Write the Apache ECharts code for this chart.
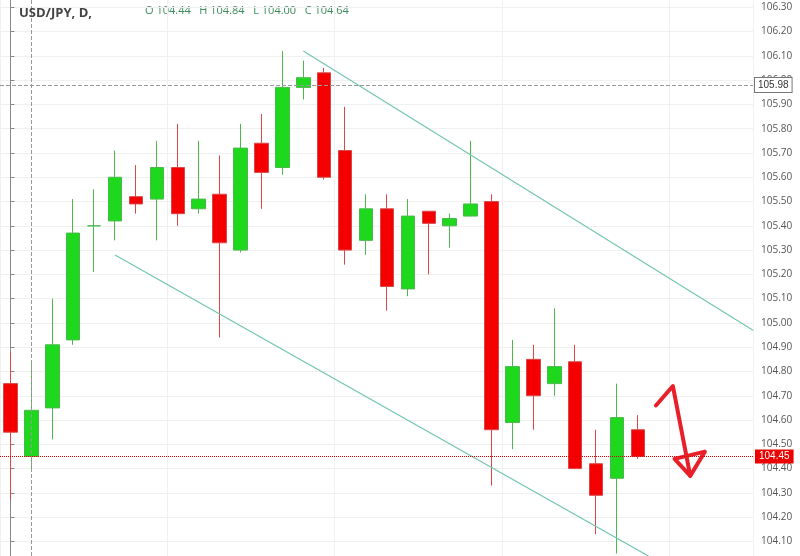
<!DOCTYPE html>
<html><head><meta charset="utf-8">
<script src="https://cdn.jsdelivr.net/npm/echarts@6/dist/echarts.min.js"></script>
<style>html,body{margin:0;padding:0;background:#fff}#main{width:800px;height:556px}</style>
</head><body><div id="main"></div>
<script>
// candles: [open, close, low, high]
var opens  = [104.75,104.45,104.65,104.93,105.40,105.42,105.52,105.51,105.64,105.47,105.53,105.30,105.74,105.64,105.97,106.03,105.71,105.34,105.47,105.14,105.46,105.40,105.44,105.50,104.59,104.85,104.75,104.84,104.42,104.36,104.56];
var closes = [104.55,104.64,104.91,105.37,105.40,105.60,105.49,105.64,105.45,105.51,105.33,105.72,105.62,105.97,106.01,105.60,105.30,105.47,105.15,105.44,105.41,105.43,105.49,104.56,104.82,104.70,104.82,104.40,104.29,104.61,104.45];
var lows   = [104.27,104.40,104.52,104.91,105.21,105.34,105.45,105.34,105.40,105.45,104.94,105.29,105.47,105.61,105.92,105.59,105.24,105.28,105.05,105.11,105.20,105.31,105.45,104.33,104.48,104.56,104.70,104.40,104.13,104.05,104.44];
var highs  = [104.88,104.83,105.10,105.51,105.55,105.71,105.65,105.75,105.82,105.75,105.69,105.82,105.86,106.12,106.08,106.05,105.89,105.53,105.53,105.51,105.46,105.45,105.75,105.53,104.93,104.91,105.06,104.91,104.56,104.75,104.62];
var slots = 36;
var tickValues = [104.1,104.2,104.3,104.4,104.5,104.6,104.7,104.8,104.9,105.0,105.1,105.2,105.3,105.4,105.5,105.6,105.7,105.8,105.9,106.0,106.1,106.2,106.3];
var upperChannel = [[14,106.12],[35.5,104.97]];
var lowerChannel = [[5,105.28],[30.5,104.04]];
var arrowPath = [[30.86,104.66],[31.67,104.74],[32.5,104.37]];
var arrowHead = [[31.75,104.44],[32.5,104.37],[33.2,104.47],[31.75,104.44]];
var lastPrice = 104.45, crossPrice = 105.98, crossIndex = 1;

var cats = [], candles = [];
for (var i = 0; i < slots; i++) {
  cats.push(String(i));
  if (i < opens.length) candles.push([opens[i], closes[i], lows[i], highs[i]]);
  else candles.push('-');
}
var chart = echarts.init(document.getElementById('main'));
chart.setOption({
  animation: false,
  grid: {left: 0, right: 47, top: 0, bottom: 0},
  title: {
    text: 'USD/JPY, D,',
    left: 14, top: 2,
    textStyle: {fontSize: 13, fontWeight: 'bold', color: '#444', fontFamily: 'Open Sans'}
  },
  graphic: [{
    type: 'text', left: 145, top: 5,
    style: {text: 'O 104.44   H 104.84   L 104.00   C 104.64', fill: '#3b8a5a', font: '11px "Open Sans"'}
  }],
  xAxis: [{
    type: 'category', data: cats, boundaryGap: true,
    axisLine: {show: false}, axisTick: {show: false}, axisLabel: {show: false},
    splitLine: {show: true, interval: 7, lineStyle: {color: '#f0f0f0'}}
  }, {
    type: 'value', min: -0.5, max: slots - 0.5, show: false
  }],
  yAxis: {
    type: 'value', position: 'right', min: 104.04, max: 106.33, scale: true,
    axisLine: {show: true, lineStyle: {color: '#888'}},
    axisTick: {show: true, length: 4, customValues: tickValues, lineStyle: {color: '#888'}},
    axisLabel: {customValues: tickValues, color: '#555', fontSize: 10, fontFamily: 'Open Sans',
      formatter: function (v) { return v.toFixed(2); }},
    splitLine: {show: true, lineStyle: {color: '#f0f0f0'}}
  },
  series: [{
    type: 'candlestick', data: candles, barWidth: 14,
    itemStyle: {color: '#1ed81e', color0: '#f40000', borderColor: '#4cb84c', borderColor0: '#d84848', borderWidth: 1},
    emphasis: {disabled: true},
    markLine: {
      silent: true, symbol: 'none',
      data: [
        {yAxis: lastPrice, lineStyle: {color: '#e00000', type: 'dotted', width: 1},
          label: {position: 'end', formatter: lastPrice.toFixed(2), backgroundColor: '#ee0000', color: '#fff', fontSize: 10, padding: [2, 4], distance: 2}},
        {yAxis: crossPrice, lineStyle: {color: '#999', type: 'dashed', width: 1},
          label: {position: 'end', formatter: crossPrice.toFixed(2), backgroundColor: '#fff', borderColor: '#777', borderWidth: 1, color: '#333', fontSize: 10, padding: [2, 3], distance: 2}},
        {xAxis: crossIndex, lineStyle: {color: '#999', type: 'dashed', width: 1}, label: {show: false}}
      ]
    }
  }, {
    type: 'line', xAxisIndex: 1, data: upperChannel, symbol: 'none', clip: true,
    lineStyle: {color: '#72c6b0', width: 1.2}
  }, {
    type: 'line', xAxisIndex: 1, data: lowerChannel, symbol: 'none', clip: true,
    lineStyle: {color: '#72c6b0', width: 1.2}
  }, {
    type: 'line', xAxisIndex: 1, data: arrowPath, symbol: 'none',
    lineStyle: {color: '#e8202a', width: 4, cap: 'round', join: 'round'}
  }, {
    type: 'line', xAxisIndex: 1, data: arrowHead, symbol: 'none',
    lineStyle: {color: '#e8202a', width: 4, cap: 'round', join: 'round'}
  }]
});
</script></body></html>
